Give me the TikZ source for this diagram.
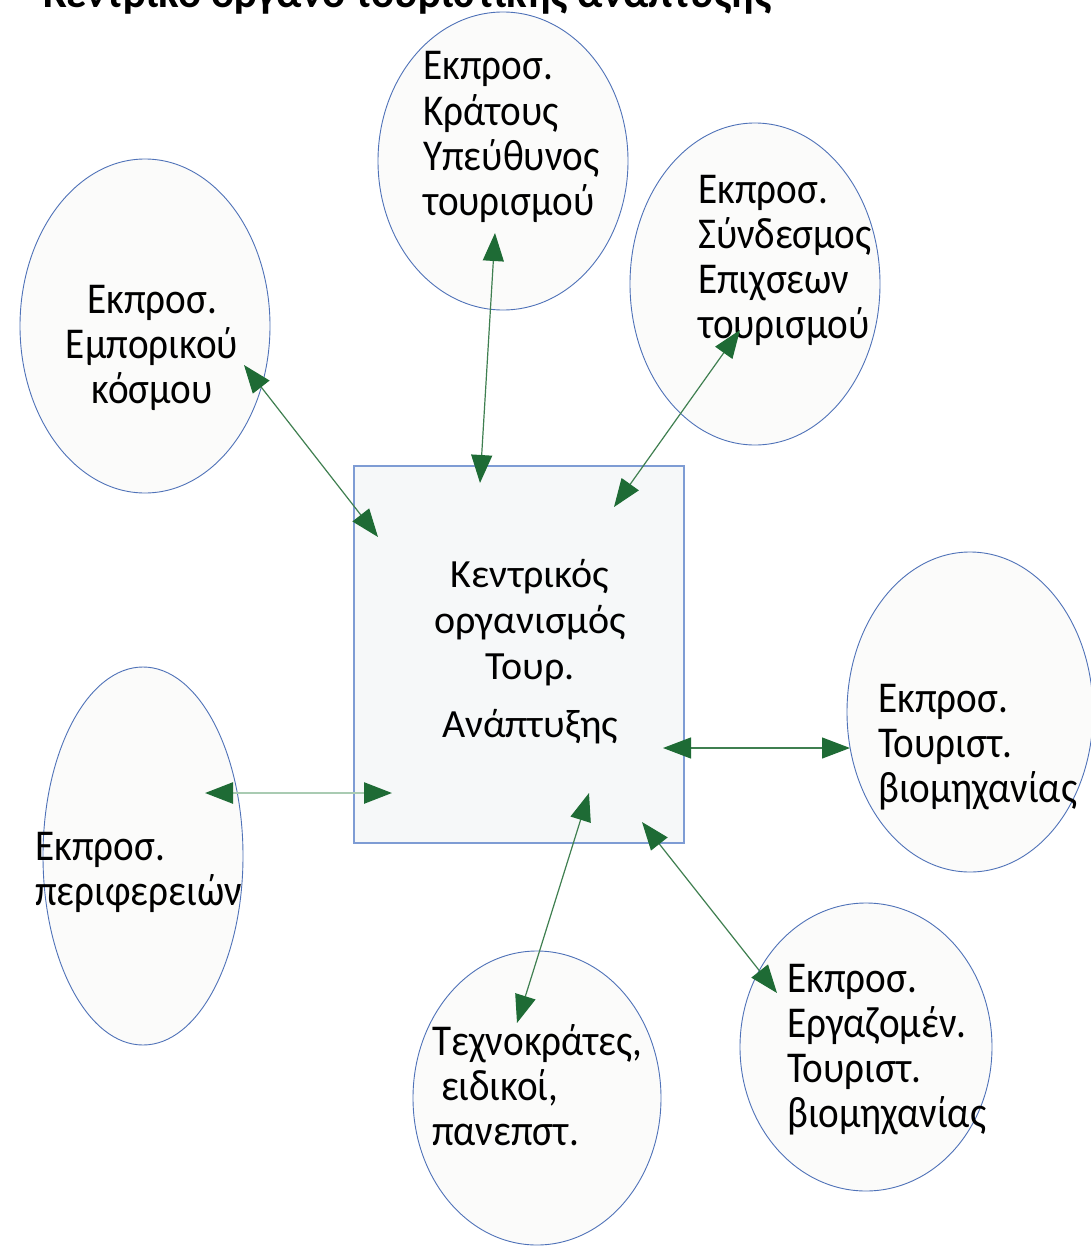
\documentclass[tikz,border=0pt]{standalone}
\usepackage{fontspec}
\setmainfont{Carlito}[FakeStretch=0.89]
\newfontfamily\ctrfont{Carlito}
\usetikzlibrary{arrows.meta,shapes.geometric}
\definecolor{ebord}{HTML}{4F72B8}
\definecolor{efill}{HTML}{FBFBFA}
\definecolor{rbord}{HTML}{7E9CD4}
\definecolor{rfill}{HTML}{F6F8F9}
\definecolor{agreen}{HTML}{1E6B35}
\definecolor{lgreen}{HTML}{3F7F50}
\definecolor{pgreen}{HTML}{A9CBB2}
\begin{document}
\begin{tikzpicture}[x=1pt,y=-1pt,
  oval/.style={ellipse,draw=ebord,fill=efill,line width=0.9pt,inner sep=0pt},
  centralbox/.style={rectangle,draw=rbord,fill=rfill,line width=1.3pt,inner sep=0pt},
  lbl/.style={inner sep=0pt,font=\fontsize{44}{45}\selectfont},
  clbl/.style={inner sep=0pt,font=\ctrfont\fontsize{40}{46}\selectfont},
  arr/.style={draw=lgreen,line width=1.2pt,{Triangle[length=28pt,width=21pt,color=agreen]}-{Triangle[length=28pt,width=21pt,color=agreen]}}
]
\useasboundingbox (0,0) rectangle (1091,1247);
\fill[white] (0,0) rectangle (1091,1247);
% title (cut off at the top, as in the reference)
\node[anchor=base west,inner sep=0pt,font=\ctrfont\bfseries\fontsize{43}{43}\selectfont] (title) at (43,8) {Κεντρικό όργανο τουριστικής ανάπτυξης};
% shapes
\node[oval,minimum width=250pt,minimum height=298pt] (e1) at (503,161) {};
\node[oval,minimum width=250pt,minimum height=322pt] (e2) at (755,284) {};
\node[oval,minimum width=250pt,minimum height=334pt] (e3) at (145,326) {};
\node[oval,minimum width=246pt,minimum height=320pt] (e4) at (970,712) {};
\node[oval,minimum width=200pt,minimum height=378pt] (e5) at (143,856) {};
\node[oval,minimum width=248pt,minimum height=294pt] (e6) at (537,1098) {};
\node[oval,minimum width=252pt,minimum height=288pt] (e7) at (866,1047) {};
\node[centralbox,minimum width=330pt,minimum height=377pt] (c) at (519,654.5) {};
% texts
\node[lbl,anchor=base west] (t1) at (423,80) {\begin{tabular}[t]{@{}l@{}}Εκπροσ.\\Κράτους\\Υπεύθυνος\\τουρισμού\end{tabular}};
\node[lbl,anchor=base west] (t2) at (698,203) {\begin{tabular}[t]{@{}l@{}}Εκπροσ.\\Σύνδεσμος\\Επιχσεων\\τουρισμού\end{tabular}};
\node[lbl,anchor=base] (t3) at (152,313) {\begin{tabular}[t]{@{}c@{}}Εκπροσ.\\Εμπορικού\\κόσμου\end{tabular}};
\node[lbl,anchor=base west] (t4) at (878,712) {\begin{tabular}[t]{@{}l@{}}Εκπροσ.\\Τουριστ.\\βιομηχανίας\end{tabular}};
\node[lbl,anchor=base west] (t5) at (35,860) {\begin{tabular}[t]{@{}l@{}}Εκπροσ.\\περιφερειών\end{tabular}};
\node[lbl,anchor=base west] (t6) at (432,1055) {\begin{tabular}[t]{@{}l@{}}Τεχνοκράτες,\\\ ειδικοί,\\πανεπστ.\end{tabular}};
\node[lbl,anchor=base west] (t7) at (787,992) {\begin{tabular}[t]{@{}l@{}}Εκπροσ.\\Εργαζομέν.\\Τουριστ.\\βιομηχανίας\end{tabular}};
\node[clbl,anchor=base] (tc) at (530,587) {\begin{tabular}[t]{@{}c@{}}Κεντρικός\\οργανισμός\\Τουρ.\\[12pt]Ανάπτυξης\end{tabular}};
% arrow end points
\coordinate (a1s) at (495,233); \coordinate (a1e) at (480,483);
\coordinate (a2s) at (740,330); \coordinate (a2e) at (614,507);
\coordinate (a3s) at (244,365); \coordinate (a3e) at (378,537);
\coordinate (a4s) at (205,793); \coordinate (a4e) at (392,793);
\coordinate (a5s) at (663,748); \coordinate (a5e) at (850,748);
\coordinate (a6s) at (589,793); \coordinate (a6e) at (517,1023);
\coordinate (a7s) at (642,822); \coordinate (a7e) at (777,993);
% connectors
\draw[arr] (a1s) -- (a1e);
\draw[arr] (a2s) -- (a2e);
\draw[arr] (a3s) -- (a3e);
\draw[arr,draw=pgreen,line width=2.5pt] (a4s) -- (a4e);
\draw[arr] (a5s) -- (a5e);
\draw[arr] (a6s) -- (a6e);
\draw[arr] (a7s) -- (a7e);
\end{tikzpicture}
\end{document}
